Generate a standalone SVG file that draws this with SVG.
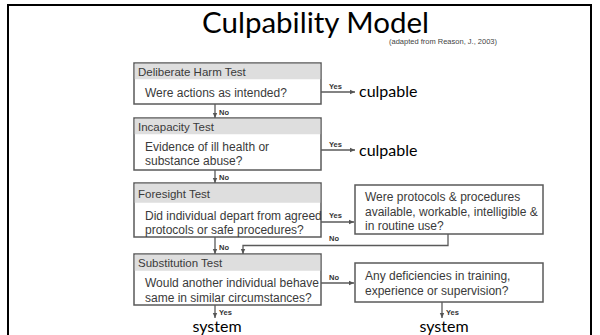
<svg xmlns="http://www.w3.org/2000/svg" width="600" height="335" viewBox="0 0 600 335">
<defs>
<marker id="ah" markerWidth="6" markerHeight="6" refX="5" refY="3" orient="auto" markerUnits="userSpaceOnUse">
<path d="M0,0.8 L5,3 L0,5.2 Z" fill="#555"/>
</marker>
<style>
.frame{fill:#fff;stroke:#000;stroke-width:2}
.box{fill:#fff;stroke:#5a5a5a;stroke-width:1.5}
.hdr{fill:#dedede;stroke:none}
.ht{font-family:"Liberation Sans",Arial,sans-serif;font-size:11.5px;fill:#3a3a3a}
.bt{font-family:"Liberation Sans",Arial,sans-serif;font-size:12px;fill:#3a3a3a}
.lbl{font-family:"Liberation Sans",Arial,sans-serif;font-size:7.5px;font-weight:bold;fill:#333}
.out{font-family:Lato,"Open Sans",sans-serif;font-size:16px;fill:#000}
.con{fill:none;stroke:#5a5a5a;stroke-width:1.3}
</style>
</defs>
<rect class="frame" x="8" y="5" width="583" height="340"/>
<text x="202" y="33" font-family="Lato,'Open Sans',sans-serif" font-size="29.5" fill="#000">Culpability Model</text>
<text x="389" y="44" font-family="'Liberation Sans',Arial,sans-serif" font-size="7.5" fill="#444">(adapted from Reason, J., 2003)</text>

<g id="n1">
<rect class="box" x="134" y="63" width="187" height="41"/>
<rect class="hdr" x="134.75" y="63.75" width="185.5" height="15.5"/>
<text class="ht" x="138" y="75.5">Deliberate Harm Test</text>
<text class="bt" x="145" y="97">Were actions as intended?</text>
</g>
<g id="n2">
<rect class="box" x="134" y="118" width="187" height="52"/>
<rect class="hdr" x="134.75" y="118.75" width="185.5" height="15.5"/>
<text class="ht" x="138" y="130.5">Incapacity Test</text>
<text class="bt" x="145" y="151">Evidence of ill health or</text>
<text class="bt" x="145" y="165">substance abuse?</text>
</g>
<g id="n3">
<rect class="box" x="134" y="183" width="187" height="54"/>
<rect class="hdr" x="134.75" y="183.75" width="185.5" height="19"/>
<text class="ht" x="138" y="197.5">Foresight Test</text>
<text class="bt" x="145" y="219.5">Did individual depart from agreed</text>
<text class="bt" x="145" y="233.5">protocols or safe procedures?</text>
</g>
<g id="n4">
<rect class="box" x="134" y="254" width="187" height="51"/>
<rect class="hdr" x="134.75" y="254.75" width="185.5" height="16"/>
<text class="ht" x="138" y="267">Substitution Test</text>
<text class="bt" x="145" y="287">Would another individual behave</text>
<text class="bt" x="145" y="301.5">same in similar circumstances?</text>
</g>
<g id="n5">
<rect class="box" x="355" y="185" width="188" height="49"/>
<text class="bt" x="365" y="201">Were protocols &amp; procedures</text>
<text class="bt" x="365" y="215.5">available, workable, intelligible &amp;</text>
<text class="bt" x="365" y="230">in routine use?</text>
</g>
<g id="n6">
<rect class="box" x="355" y="263" width="188" height="39"/>
<text class="bt" x="365" y="280">Any deficiencies in training,</text>
<text class="bt" x="365" y="295">experience or supervision?</text>
</g>
<g id="o1"><text class="out" x="359" y="97">culpable</text></g>
<g id="o2"><text class="out" x="359" y="156">culpable</text></g>
<g id="o3"><text class="out" x="217" y="332" text-anchor="middle">system</text></g>
<g id="o4"><text class="out" x="444" y="332" text-anchor="middle">system</text></g>

<g id="connectors">
<path class="con" d="M321,92 H355" marker-end="url(#ah)"/>
<text class="lbl" x="329" y="89">Yes</text>
<path class="con" d="M321,150 H355" marker-end="url(#ah)"/>
<text class="lbl" x="329" y="147">Yes</text>
<path class="con" d="M321,222 H354" marker-end="url(#ah)"/>
<text class="lbl" x="329" y="218">Yes</text>
<path class="con" d="M321,283 H354" marker-end="url(#ah)"/>
<text class="lbl" x="329" y="280">No</text>
<path class="con" d="M215,104 V118" marker-end="url(#ah)"/>
<text class="lbl" x="219" y="115">No</text>
<path class="con" d="M215,170 V183" marker-end="url(#ah)"/>
<text class="lbl" x="219" y="180">No</text>
<path class="con" d="M215,237 V254" marker-end="url(#ah)"/>
<text class="lbl" x="219" y="250">No</text>
<path class="con" d="M448,234 V245.5 H243 V254" marker-end="url(#ah)"/>
<text class="lbl" x="329" y="241">No</text>
<path class="con" d="M215,305 V318" marker-end="url(#ah)"/>
<text class="lbl" x="219" y="315">Yes</text>
<path class="con" d="M442,302 V318" marker-end="url(#ah)"/>
<text class="lbl" x="446" y="315">Yes</text>
</g>
</svg>
